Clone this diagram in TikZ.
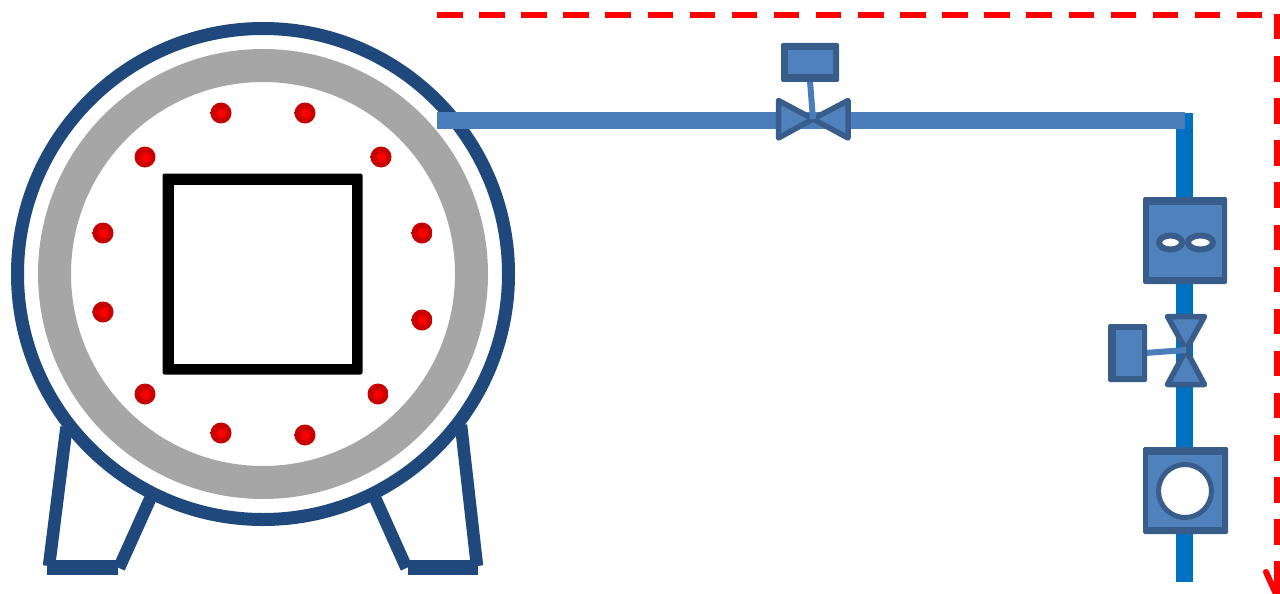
\documentclass[tikz,border=0pt]{standalone}
\definecolor{shell}{HTML}{1F497D}
\definecolor{ringgray}{HTML}{A6A6A6}
\definecolor{pipeA}{HTML}{4A7EBB}
\definecolor{pipeB}{HTML}{0070C0}
\definecolor{edgeblue}{HTML}{385D8A}
\definecolor{partfill}{HTML}{4F81BD}
\definecolor{dotedge}{HTML}{C80000}
\pgfdeclareradialshading{dotshade}{\pgfpoint{0bp}{0bp}}{color(0bp)=(red); color(7bp)=(red); color(15bp)=(dotedge); color(50bp)=(dotedge)}
\tikzset{
  part/.style={draw=edgeblue,fill=partfill,line width=5.5pt,line join=round},
  outerbox/.style={fill=edgeblue,rounded corners=1.5pt},
  innerbox/.style={fill=partfill},
  leg/.style={draw=shell,line width=12.5pt},
  dot/.style={circle,shading=dotshade,minimum size=21pt,inner sep=0pt},
  stem/.style={draw=pipeA,line width=6pt},
  route/.style={draw=red,line width=6pt,dash pattern=on 25.5pt off 16.6pt},
  routetip/.style={draw=red,line width=6pt},
}
\begin{document}
\begin{tikzpicture}[x=1pt,y=-1pt]
\useasboundingbox (0,0) rectangle (1280,594);
\clip (0,0) rectangle (1280,594);
% legs
\draw[leg] (66.5,427) -- (49,566);
\draw[leg] (151,497) -- (119,568);
\draw[leg] (375.5,499) -- (406.5,568);
\draw[leg] (461,425) -- (477,566);
\fill[shell] (47,560) rectangle (118,575);
\fill[shell] (408,560) rectangle (478,575);
% vessel
\draw[shell,line width=13pt,fill=white] (263,274) circle (245.5);
\draw[ringgray,line width=33pt] (263,274) circle (208.5);
\fill[black,rounded corners=2pt] (162.5,173.5) rectangle (362.5,374.5);
\fill[white] (173.5,184.5) rectangle (351.5,363.5);
% heating elements
\foreach \n/\x/\y in {a/221/113,b/305/113,c/145/157,d/381/157,e/103/233,f/422/233,g/103/312,h/422/320,i/145/394,j/378/394,k/221/433,l/305/435}
  \node[dot] (dot\n) at (\x,\y) {};
% pipes
\fill[pipeB] (1176,113) rectangle (1193,582);
\fill[pipeA] (437,112) rectangle (1185,129);
% dashed route
\draw[route] (437,15) -- (1265,15);
\draw[route] (1277,14) -- (1277,562);
\draw[routetip] (1277,562) -- (1277,594);
\draw[routetip,line cap=round] (1266,572) -- (1276,594);
% top valve
\draw[part] (778.5,100.5) -- (813,119) -- (778.5,138) -- cycle;
\draw[part] (848,100.5) -- (813,119) -- (848,138) -- cycle;
\draw[stem] (810,81) -- (813,119);
\fill[outerbox] (781,43) rectangle (839,82);
\fill[innerbox] (788,50) rectangle (833,74);
% mixing box
\fill[outerbox] (1143,197) rectangle (1227,284);
\fill[innerbox] (1149,205) rectangle (1222,277);
\draw[edgeblue,line width=6pt,fill=white] (1170.5,242.5) ellipse (11.5 and 7);
\draw[edgeblue,line width=6pt,fill=white] (1200.5,242.5) ellipse (12.5 and 7);
% side valve
\draw[part] (1167.5,316.5) -- (1204.5,316.5) -- (1186,350) -- cycle;
\draw[part] (1167.5,384.5) -- (1204.5,384.5) -- (1186,350) -- cycle;
\draw[stem] (1145,353) -- (1186,350);
\fill[outerbox] (1108,324) rectangle (1147,382);
\fill[innerbox] (1116,330) rectangle (1142,376);
% gauge box
\fill[outerbox] (1143,447) rectangle (1228,534);
\fill[innerbox] (1148,455) rectangle (1222,527);
\draw[edgeblue,line width=5pt,fill=white] (1185,491) circle (26.5);
\end{tikzpicture}
\end{document}
